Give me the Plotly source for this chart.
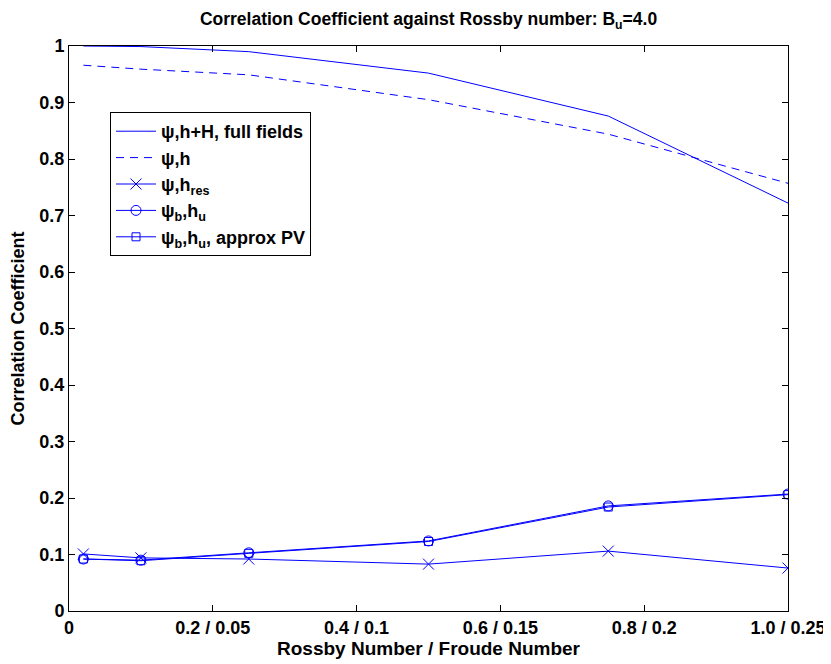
import plotly.graph_objects as go

rossby = [0.02, 0.1, 0.25, 0.5, 0.75, 1.0]
full_fields = [1.0, 0.999, 0.990, 0.952, 0.876, 0.722]
psi_h = [0.966, 0.959, 0.949, 0.905, 0.844, 0.757]
psi_hres = [0.101, 0.094, 0.092, 0.083, 0.106, 0.076]
psib_hu = [0.092, 0.090, 0.103, 0.124, 0.186, 0.207]
psib_hu_approx = [0.092, 0.089, 0.102, 0.123, 0.184, 0.206]

x_tickvals = [0, 0.2, 0.4, 0.6, 0.8, 1.0]
x_ticktext = ["0", "0.2 / 0.05", "0.4 / 0.1", "0.6 / 0.15", "0.8 / 0.2", "1.0 / 0.25"]
y_tickvals = [0, 0.1, 0.2, 0.3, 0.4, 0.5, 0.6, 0.7, 0.8, 0.9, 1.0]
y_ticktext = ["0", "0.1", "0.2", "0.3", "0.4", "0.5", "0.6", "0.7", "0.8", "0.9", "1"]

BLUE = "#0000FF"
FONT = "Liberation Sans, Arial, sans-serif"


def bold(size):
    return dict(family=FONT, size=size, color="black", weight="bold")


fig = go.Figure()
fig.add_trace(go.Scatter(x=rossby, y=full_fields, mode="lines",
                         line=dict(color=BLUE, width=1),
                         name="ψ,h+H, full fields"))
fig.add_trace(go.Scatter(x=rossby, y=psi_h, mode="lines",
                         line=dict(color=BLUE, width=1, dash="8px,6px"),
                         name="ψ,h"))
fig.add_trace(go.Scatter(x=rossby, y=psi_hres, mode="lines+markers",
                         line=dict(color=BLUE, width=1),
                         marker=dict(symbol="x-thin-open", size=11, color=BLUE,
                                     line=dict(color=BLUE, width=1)),
                         name="ψ,h<sub>res</sub>"))
fig.add_trace(go.Scatter(x=rossby, y=psib_hu, mode="lines+markers",
                         line=dict(color=BLUE, width=1),
                         marker=dict(symbol="circle-open", size=10, color=BLUE,
                                     line=dict(color=BLUE, width=1)),
                         name="ψ<sub>b</sub>,h<sub>u</sub>"))
fig.add_trace(go.Scatter(x=rossby, y=psib_hu_approx, mode="lines+markers",
                         line=dict(color=BLUE, width=1),
                         marker=dict(symbol="square-open", size=8, color=BLUE,
                                     line=dict(color=BLUE, width=1)),
                         name="ψ<sub>b</sub>,h<sub>u</sub>, approx PV"))

axis_common = dict(showline=True, linecolor="black", linewidth=1, mirror="ticks",
                   ticks="inside", ticklen=6, tickcolor="black", showgrid=False,
                   zeroline=False, automargin=False, tickfont=bold(18))

fig.update_layout(
    width=823, height=656,
    margin=dict(l=61, r=43, t=38, b=53),
    paper_bgcolor="white", plot_bgcolor="white",
    font=dict(family=FONT, color="black", weight="bold"),
    title=dict(text="Correlation Coefficient against Rossby number: B<sub>u</sub>=4.0",
               x=(61 + 780) / 2 / 823, xanchor="center", y=1 - 11 / 656, yanchor="middle",
               font=bold(17.5)),
    xaxis=dict(range=[0, 1.0], tickvals=x_tickvals, ticktext=x_ticktext,
               title=dict(text="Rossby Number / Froude Number", standoff=4, font=bold(19)),
               **axis_common),
    yaxis=dict(range=[0, 1.0], tickvals=y_tickvals, ticktext=y_ticktext,
               title=dict(text="Correlation Coefficient", standoff=10, font=bold(18)),
               **axis_common),
    legend=dict(x=(109 - 68) / 719, y=(610 - 111) / 565, xanchor="left", yanchor="top",
                bgcolor="white", bordercolor="black", borderwidth=1,
                itemwidth=40, font=bold(18)),
    showlegend=True,
)

fig.write_html("out.html")
